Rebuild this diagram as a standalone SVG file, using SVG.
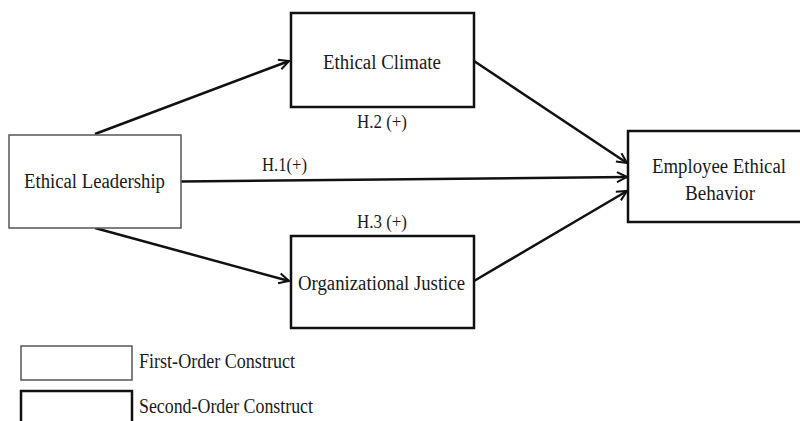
<svg xmlns="http://www.w3.org/2000/svg" width="800" height="421" viewBox="0 0 800 421">
<defs>
<style>
text{font-family:"Liberation Serif","Times New Roman",serif;font-size:20px;fill:#1a1a1a}
.c{text-anchor:middle}
.first{fill:#fff;stroke:#555;stroke-width:1.5}
.second{fill:#fff;stroke:#111;stroke-width:2.5}
.conn{stroke:#111;stroke-width:2.5;fill:none;marker-end:url(#arr)}
.lbl{font-size:18px}
</style>
<marker id="arr" viewBox="0 0 10 10" refX="9" refY="5" markerWidth="5" markerHeight="5" orient="auto" markerUnits="strokeWidth">
<path d="M1,1 L9,5 L1,9" fill="none" stroke="#111" stroke-width="1.6"/>
</marker>
</defs>
<rect width="800" height="421" fill="#fff"/>
<g id="connectors">
<line class="conn" x1="95" y1="134" x2="289" y2="61"/>
<line class="conn" x1="95" y1="228" x2="289" y2="281"/>
<line class="conn" x1="181" y1="181.5" x2="627" y2="177"/>
<line class="conn" x1="474" y1="61" x2="627" y2="163"/>
<line class="conn" x1="474" y1="281" x2="627" y2="191"/>
<text class="lbl c" x="382" y="128" textLength="50" lengthAdjust="spacingAndGlyphs">H.2 (+)</text>
<text class="lbl c" x="284.5" y="171" textLength="45" lengthAdjust="spacingAndGlyphs">H.1(+)</text>
<text class="lbl c" x="382" y="228" textLength="50" lengthAdjust="spacingAndGlyphs">H.3 (+)</text>
</g>
<g id="ethical-leadership">
<rect class="first" x="9" y="135" width="172" height="93"/>
<text class="c" x="94.5" y="188" textLength="141" lengthAdjust="spacingAndGlyphs">Ethical Leadership</text>
</g>
<g id="ethical-climate">
<rect class="second" x="291" y="13" width="183" height="94"/>
<text class="c" x="382" y="69" textLength="118" lengthAdjust="spacingAndGlyphs">Ethical Climate</text>
</g>
<g id="organizational-justice">
<rect class="second" x="291" y="236" width="183" height="92"/>
<text class="c" x="381.5" y="290" textLength="167" lengthAdjust="spacingAndGlyphs">Organizational Justice</text>
</g>
<g id="employee-ethical-behavior">
<rect class="second" x="628" y="131" width="180" height="91"/>
<text class="c" x="719" y="173" textLength="134" lengthAdjust="spacingAndGlyphs">Employee Ethical</text>
<text class="c" x="720" y="200" textLength="70" lengthAdjust="spacingAndGlyphs">Behavior</text>
</g>
<g id="legend">
<rect class="first" x="21" y="346" width="111" height="34"/>
<text x="139" y="368" textLength="156" lengthAdjust="spacingAndGlyphs">First-Order Construct</text>
<rect class="second" x="21" y="391" width="111" height="40"/>
<text x="139" y="413" textLength="174" lengthAdjust="spacingAndGlyphs">Second-Order Construct</text>
</g>
</svg>
